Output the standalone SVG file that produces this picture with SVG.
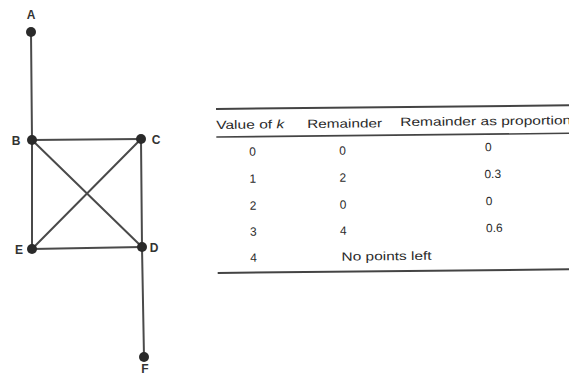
<svg xmlns="http://www.w3.org/2000/svg" width="569" height="376" viewBox="0 0 569 376">
<style>
.edge{stroke:#4a4a4a;stroke-width:2;fill:none;stroke-linecap:round}
.dot{fill:#2a2a2a}
.lbl{font-family:"Liberation Sans",Arial,sans-serif;font-size:12px;font-weight:bold;fill:#333;dominant-baseline:central;text-anchor:middle}
.t{font-family:"Liberation Sans",Arial,sans-serif;font-size:12px;fill:#2a2a2a;dominant-baseline:central}
.c{text-anchor:middle}
.rule{stroke:#444;fill:none}
</style>
<rect width="569" height="376" fill="#ffffff"/>
<g id="connectors">
<line class="edge" x1="31" y1="32" x2="32" y2="140"/>
<line class="edge" x1="32" y1="140" x2="141" y2="139"/>
<line class="edge" x1="32" y1="140" x2="32" y2="249"/>
<line class="edge" x1="32" y1="140" x2="142" y2="247"/>
<line class="edge" x1="141" y1="139" x2="32" y2="249"/>
<line class="edge" x1="141" y1="139" x2="142" y2="247"/>
<line class="edge" x1="32" y1="249" x2="142" y2="247"/>
<line class="edge" x1="142" y1="247" x2="144" y2="357"/>
</g>
<g id="node-A"><circle class="dot" cx="31" cy="32" r="5"/><text class="lbl" x="31" y="15">A</text></g>
<g id="node-B"><circle class="dot" cx="32" cy="140" r="5"/><text class="lbl" x="16" y="141">B</text></g>
<g id="node-C"><circle class="dot" cx="141" cy="139" r="5"/><text class="lbl" x="156" y="140">C</text></g>
<g id="node-E"><circle class="dot" cx="32" cy="249" r="5"/><text class="lbl" x="19" y="250">E</text></g>
<g id="node-D"><circle class="dot" cx="142" cy="247" r="5"/><text class="lbl" x="154" y="248">D</text></g>
<g id="node-F"><circle class="dot" cx="144" cy="357" r="5"/><text class="lbl" x="145" y="369">F</text></g>
<g id="table" transform="rotate(-0.6 216 109)">
<line class="rule" x1="216" y1="109" x2="572" y2="109" stroke-width="2"/>
<line class="rule" x1="216" y1="137" x2="572" y2="137" stroke-width="1.6"/>
<line class="rule" x1="216" y1="273" x2="572" y2="273" stroke-width="2"/>
<text class="t" x="216" y="125" textLength="68" lengthAdjust="spacingAndGlyphs">Value of <tspan font-style="italic">k</tspan></text>
<text class="t" x="307" y="125" textLength="75" lengthAdjust="spacingAndGlyphs">Remainder</text>
<text class="t" x="400" y="124" textLength="171" lengthAdjust="spacingAndGlyphs">Remainder as proportion</text>
<text class="t c" x="252" y="152">0</text>
<text class="t c" x="342" y="152">0</text>
<text class="t c" x="488" y="150">0</text>
<text class="t c" x="252" y="179">1</text>
<text class="t c" x="342" y="179">2</text>
<text class="t c" x="492" y="177">0.3</text>
<text class="t c" x="252" y="206">2</text>
<text class="t c" x="342" y="206">0</text>
<text class="t c" x="488" y="204">0</text>
<text class="t c" x="252" y="232">3</text>
<text class="t c" x="342" y="232">4</text>
<text class="t c" x="493" y="231">0.6</text>
<text class="t c" x="252" y="258">4</text>
<text class="t" x="340" y="258" textLength="90" lengthAdjust="spacingAndGlyphs">No points left</text>
</g>
</svg>
